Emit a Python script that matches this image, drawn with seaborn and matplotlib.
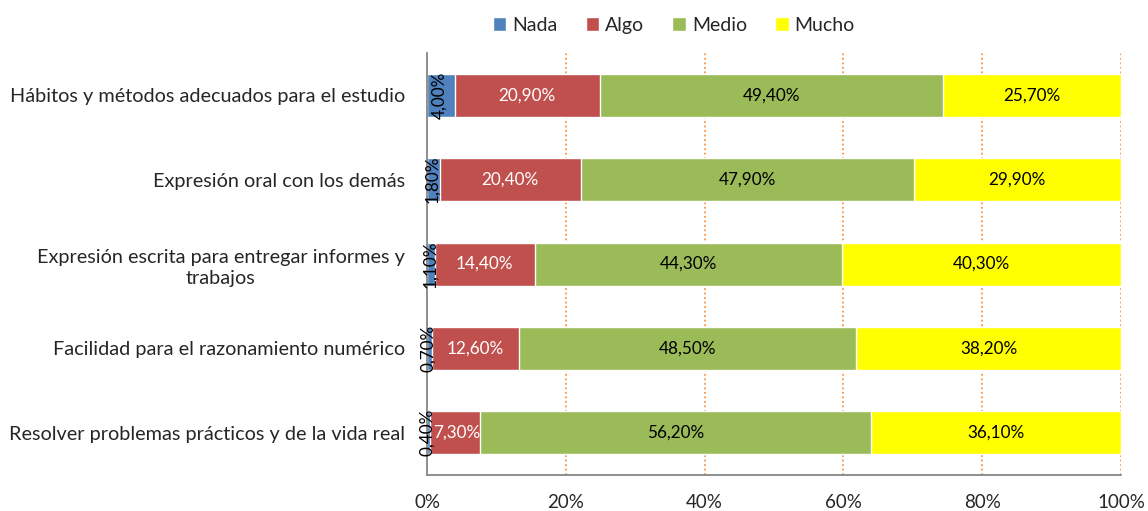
import matplotlib
matplotlib.use("Agg")
import matplotlib.pyplot as plt
import seaborn as sns
import pandas as pd
import numpy as np

categories = [
    "Hábitos y métodos adecuados para el estudio",
    "Expresión oral con los demás",
    "Expresión escrita para entregar informes y\ntrabajos",
    "Facilidad para el razonamiento numérico",
    "Resolver problemas prácticos y de la vida real",
]
series = ["Nada", "Algo", "Medio", "Mucho"]
nada = [4.0, 1.8, 1.1, 0.7, 0.4]
algo = [20.9, 20.4, 14.4, 12.6, 7.3]
medio = [49.4, 47.9, 44.3, 48.5, 56.2]
mucho = [25.7, 29.9, 40.3, 38.2, 36.1]
colors = ["#4F81BD", "#C0504D", "#9BBB59", "#FFFF00"]
text_colors = ["black", "white", "black", "black"]
xticks = [0, 20, 40, 60, 80, 100]

sns.set_style("white")
plt.rcParams["font.family"] = ["Lato", "DejaVu Sans"]

raw = np.array([nada, algo, medio, mucho])
share = raw / raw.sum(axis=0) * 100
cum = np.cumsum(share, axis=0)

fig = plt.figure(figsize=(11.48, 5.11), dpi=100)
ax = fig.add_axes([0.372, 0.0705, 0.6045, 0.8255])

# draw the stacks from the back: totals first, then smaller cumulative sums
for i in range(3, -1, -1):
    df = pd.DataFrame({"cat": categories, "val": cum[i]})
    sns.barplot(data=df, x="val", y="cat", orient="h", color=colors[i],
                width=0.51, saturation=1, ax=ax, label=series[i])

for i in range(4):
    for j in range(len(categories)):
        left = cum[i][j] - share[i][j]
        xc = left + share[i][j] / 2
        txt = f"{raw[i][j]:.2f}%".replace(".", ",")
        if i == 0:
            ax.text(xc - 0.15, j, txt, rotation=90, ha="center", va="center",
                    fontsize=12.3, color="black")
        else:
            ax.text(xc + (0.25 if share[i][j] < 10 else 0), j, txt,
                    ha="center", va="center", fontsize=12.3, color=text_colors[i])

ax.set_xlim(0, 100)
ax.set_ylim(4.5, -0.5)
ax.set_xticks(xticks)
ax.set_xticklabels([f"{t}%" for t in xticks], fontsize=13.5)
ax.set_xlabel("")
ax.set_ylabel("")
for t in xticks[1:]:
    ax.axvline(t, color="#F79646", linestyle=(0, (1, 1.5)), linewidth=1.3, zorder=0)

ax.set_yticks(range(len(categories)))
ax.set_yticklabels(categories, fontsize=14.3)
for lab in ax.get_yticklabels():
    lab.set_multialignment("center")
    lab.set_linespacing(1.35)
ax.set_yticks(np.arange(-0.5, 5, 1), minor=True)
ax.tick_params(axis="y", which="major", length=0, pad=16)
ax.tick_params(axis="y", which="minor", length=5, color="#868686", direction="out")
ax.tick_params(axis="x", length=5, color="#868686", direction="out", pad=9)

for s in ["top", "right"]:
    ax.spines[s].set_visible(False)
for s in ["left", "bottom"]:
    ax.spines[s].set_color("#868686")
    ax.spines[s].set_linewidth(1.3)

handles, labels = ax.get_legend_handles_labels()
order = [labels.index(s) for s in series]
if ax.legend_:
    ax.legend_.remove()
fig.legend([handles[k] for k in order], series, loc="center", bbox_to_anchor=(0.587, 0.95),
           ncol=4, frameon=False, fontsize=14, handlelength=0.7, handleheight=0.7,
           handletextpad=0.3, columnspacing=1.45)

fig.savefig("out.png", dpi=100)
